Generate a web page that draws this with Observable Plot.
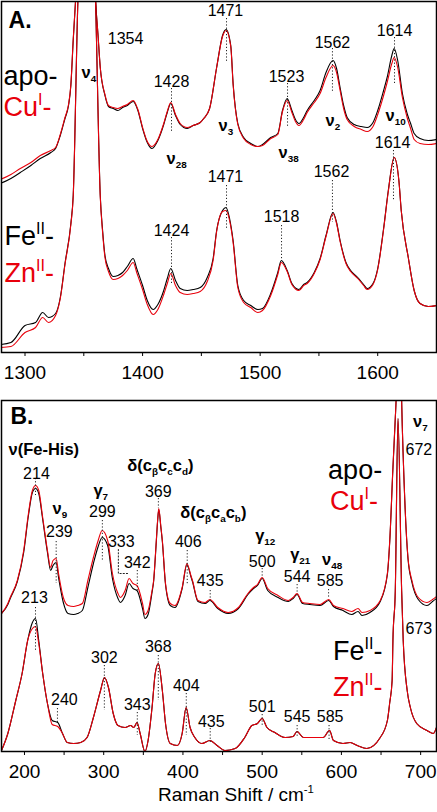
<!DOCTYPE html>
<html><head><meta charset="utf-8">
<script src="https://cdn.jsdelivr.net/npm/d3@7"></script>
<script src="https://cdn.jsdelivr.net/npm/@observablehq/plot@0.6"></script>
<style>
html,body{margin:0;padding:0;background:#fff;}
#chart{width:437px;height:812px;overflow:hidden;font-family:"Liberation Sans",Arial,Helvetica,sans-serif;}
svg{display:block;}
</style></head><body><div id="chart"></div>
<script>
// ---------- Panel A: 1280–1650 cm-1 (arbitrary intensity units) ----------
const xAu = [1279,1288,1296,1305,1313,1322,1326,1330,1334,1337,1339,1341,1343,1347,1353,1358,1360,1362,1364,1368,1371,1375,1379,1383,1387,1392,1396,1400,1404,1408,1413,1418,1421,1424,1428,1432,1438,1443,1449,1452,1457,1463,1468,1471,1475,1477,1481,1486,1492,1498,1502,1509,1515,1519,1523,1527,1530,1533,1537,1540,1546,1551,1556,1562,1565,1568,1571,1574,1580,1586,1591,1596,1600,1605,1608,1612,1614,1617,1621,1625,1628,1631,1636,1643,1650];
const apoA = [169,174,180,187,194,200,204,217,234,247,267,312,352,412,462,412,352,319,285,257,246,244,242,245,247,251,242,224,210,204,212,228,240,249,237,228,224,227,230,234,244,285,317,323,307,269,229,215,209,206,208,215,219,242,254,242,233,229,235,242,252,262,280,292,284,265,247,235,228,226,225,230,242,262,275,297,304,292,259,239,229,219,214,212,213];
const cuA  = [173,178,184,190,197,202,205,218,235,248,268,313,352,412,462,412,352,319,285,258,247,245,244,246,248,252,243,225,211,206,213,229,241,250,238,229,225,227,230,234,244,285,316,322,306,268,228,214,208,206,207,214,218,241,252,240,231,227,233,240,250,259,275,287,280,262,244,233,226,223,221,226,238,257,270,289,295,285,255,235,224,213,209,208,209];
const xAl = [1279,1288,1300,1309,1315,1320,1326,1330,1334,1339,1341,1345,1349,1354,1358,1360,1364,1366,1368,1371,1375,1379,1383,1387,1392,1395,1400,1404,1409,1413,1418,1421,1424,1428,1432,1438,1443,1449,1455,1460,1463,1468,1471,1474,1477,1481,1486,1492,1498,1502,1509,1515,1518,1523,1527,1533,1537,1540,1546,1551,1556,1562,1565,1568,1573,1577,1583,1588,1591,1596,1600,1605,1609,1614,1618,1620,1626,1631,1636,1643,1650];
const feA = [8,10,27,30,40,35,39,55,89,129,157,352,432,452,432,352,157,122,97,84,76,77,80,86,94,84,67,52,43,48,62,74,84,72,64,62,63,65,75,94,122,142,145,134,112,67,52,47,43,44,59,80,92,82,69,63,68,70,80,94,117,140,130,112,90,82,75,68,64,69,84,124,162,195,172,142,95,62,49,46,47];
const znA = [5,6,20,25,35,30,37,54,88,128,156,352,432,452,432,352,156,120,95,81,73,74,77,82,90,80,63,48,38,43,58,69,79,67,60,58,59,61,71,92,121,141,142,132,110,65,50,45,40,42,57,78,90,81,68,62,67,69,79,93,116,139,129,111,89,81,74,67,63,68,83,123,161,195,172,142,95,62,49,46,47];
const ticksA = [1300,1350,1400,1450,1500,1550,1600];

// ---------- Panel B: 171–720 cm-1 ----------
const xBu = [171,179,182,191,199,205,210,214,218,223,229,233,236,240,243,249,255,262,267,273,280,287,293,298,305,311,318,321,327,332,337,342,349,352,356,361,363,366,368,369.5,372,374,378,384,390,399,405,410,412,419,428,434,444,457,470,482,489,494,500,507,520,533,539,544,551,560,573,584,590,602,613,621,626,636,649,658,661,665,668,669,672.6,676,680,684,689,697,708,715,720];
const apoB = [139,148,154,171,200,237,260,264,259,233,200,182,187,190,175,150,139,138,139,142,165,189,206,215,207,174,154,150,157,169,164,162,144,134,138,160,171,206,231,243,226,211,168,147,145,164,188,176,171,151,149,152,144,139,144,158,164,167,174,162,155,151,154,158,149,148,147,152,146,142,138,141,137,140,151,178,211,284,334,352,502,352,252,194,170,153,147,151,154];
const cuB  = [139,149,155,172,202,239,262,267,262,235,202,185,192,194,179,155,147,146,147,149,172,195,212,222,212,179,159,155,162,174,169,167,149,138,142,162,172,207,232,244,227,212,169,149,147,165,189,177,172,152,150,153,145,140,145,159,165,168,175,164,157,152,155,159,150,149,148,153,147,144,141,144,140,142,152,179,212,285,335,352,502,352,252,195,172,155,150,153,156];
const xBl = [171,179,189,197,204,210,214,218,223,229,235,242,248,254,262,271,279,287,296,301,306,312,318,327,334,338,342,346,352,356,361,365,369,374,378,384,393,399,404,409,415,424,434,443,453,466,478,487,494,500,506,516,529,539,544,552,561,577,585,590,602,611,620,632,649,658,661,664,665,668,671.4,676,678,683,687,695,708,716,720];
const feB = [2,19,52,79,112,130,134,112,79,49,32,30,19,10,9,10,15,35,62,75,65,39,27,25,27,25,30,19,1,12,45,79,89,62,29,9,7,19,45,25,15,9,12,7,2,4,15,27,29,34,25,20,15,16,21,15,15,15,22,12,9,10,7,4,15,32,50,72,112,162,334,162,112,62,45,29,22,19,25];
const znB = [2,19,52,79,112,124,126,109,79,49,28,26,19,10,9,10,15,35,62,75,65,39,27,25,27,25,30,19,1,12,45,79,89,62,29,9,7,19,45,25,15,9,12,7,2,4,15,27,29,34,25,20,15,16,21,15,15,15,22,12,9,10,7,4,15,32,50,72,112,162,334,162,112,62,45,29,22,19,25];
const ticksB = [200,250,300,350,400,450,500,550,600,650,700];

// peak labels (text) and mode assignments
const peaksAupper = ["1428","1471","1523","1562","1614"];
const peaksAlower = ["1424","1471","1518","1562","1614"];
const modesA = ["ν_{4}","ν_{28}","ν_{3}","ν_{38}","ν_{2}","ν_{10}"];
const peaksBupper = ["214","239","299","333","342","369","406","435","500","544","585","672"];
const peaksBlower = ["213","240","302","343","368","404","435","501","545","585","673"];
const modesB = ["ν(Fe-His)","ν_{9}","γ_{7}","δ(c_{β}c_{c}c_{d})","δ(c_{β}c_{a}c_{b})","γ_{12}","γ_{21}","ν_{48}","ν_{7}"];
const samples = ["apo-","Cu^{I}-","Fe^{II}-","Zn^{II}-"];

const RED = "#e8000b";
const FONT = '"Liberation Sans", Arial, Helvetica, sans-serif';
const zipXY = (xs, ys) => xs.map((x, i) => ({x, y: ys[i]}));

function rich(svg) {
  for (const t of svg.querySelectorAll("text")) {
    const s = t.textContent;
    if (!/[_^]\{/.test(s)) continue;
    const fs = parseFloat(getComputedStyle(t).fontSize);
    t.textContent = "";
    let shift = 0;
    for (const part of s.split(/([_^]\{[^}]*\})/)) {
      if (!part) continue;
      const ts = document.createElementNS("http://www.w3.org/2000/svg", "tspan");
      let target = 0, txt = part, small = false;
      if (part[0] === "_") { target = 0.26 * fs; txt = part.slice(2, -1); small = true; }
      else if (part[0] === "^") { target = -0.42 * fs; txt = part.slice(2, -1); small = true; }
      if (target - shift !== 0) ts.setAttribute("dy", target - shift);
      shift = target;
      if (small) ts.setAttribute("font-size", (0.6 * fs).toFixed(1));
      ts.textContent = txt;
      t.appendChild(ts);
    }
  }
}

// annotation tables (label, x, y in data units)
const numA = [
  {t:"1354", x:1385.5, y:314},
  {t:peaksAupper[0], x:1424.6, y:271}, {t:peaksAupper[1], x:1470.5, y:342},
  {t:peaksAupper[2], x:1522.4, y:276}, {t:peaksAupper[3], x:1561.5, y:310},
  {t:peaksAupper[4], x:1614.3, y:322},
  {t:peaksAlower[0], x:1424.6, y:122}, {t:peaksAlower[1], x:1470.5, y:176},
  {t:peaksAlower[2], x:1518.2, y:136}, {t:peaksAlower[3], x:1560.7, y:181},
  {t:peaksAlower[4], x:1612.6, y:210}
];
const modeA = [
  {t:modesA[0], x:1348, y:280}, {t:modesA[1], x:1420.3, y:194}, {t:modesA[2], x:1464.6, y:227},
  {t:modesA[3], x:1515.6, y:200}, {t:modesA[4], x:1555.6, y:232}, {t:modesA[5], x:1606.6, y:237}
];
const sampA = [
  {t:samples[0], x:1281.7, y:276, c:"black"}, {t:samples[1], x:1281.7, y:245, c:RED},
  {t:samples[2], x:1282.6, y:116, c:"black"}, {t:samples[3], x:1282.6, y:79, c:RED}
];
const dotsA = [
  {x:1424.6, y1:264, y2:220}, {x:1471.4, y1:334, y2:290}, {x:1523.3, y1:269, y2:225},
  {x:1561.5, y1:304, y2:260}, {x:1614.3, y1:315, y2:267},
  {x:1424.6, y1:115, y2:67}, {x:1471.4, y1:167, y2:124}, {x:1518.2, y1:127, y2:92},
  {x:1561.5, y1:172, y2:130}, {x:1613.4, y1:202, y2:152}
];

const numB = [
  {t:peaksBupper[0], x:215.1, y:279}, {t:peaksBupper[1], x:244.1, y:221}, {t:peaksBupper[2], x:298.3, y:241},
  {t:peaksBupper[3], x:322.2, y:211}, {t:peaksBupper[4], x:342.4, y:190}, {t:peaksBupper[5], x:368.9, y:261},
  {t:peaksBupper[6], x:406.7, y:211}, {t:peaksBupper[7], x:434.4, y:172}, {t:peaksBupper[8], x:500, y:191},
  {t:peaksBupper[9], x:544.1, y:176}, {t:peaksBupper[10], x:585.7, y:172}, {t:peaksBupper[11], x:697.8, y:303},
  {t:peaksBlower[0], x:212.6, y:155}, {t:peaksBlower[1], x:250.4, y:53}, {t:peaksBlower[2], x:300.8, y:95},
  {t:peaksBlower[3], x:342.4, y:48}, {t:peaksBlower[4], x:368.9, y:106}, {t:peaksBlower[5], x:404.2, y:67},
  {t:peaksBlower[6], x:435.7, y:31}, {t:peaksBlower[7], x:500, y:46}, {t:peaksBlower[8], x:544.1, y:36},
  {t:peaksBlower[9], x:585.7, y:36}, {t:peaksBlower[10], x:697.8, y:124}
];
const modeB = [
  {t:modesB[0], x:179.8, y:303}, {t:modesB[1], x:235.3, y:244}, {t:modesB[2], x:287, y:262},
  {t:modesB[3], x:329.8, y:287}, {t:modesB[4], x:396.6, y:240}, {t:modesB[5], x:491.1, y:217},
  {t:modesB[6], x:535.3, y:198}, {t:modesB[7], x:575.6, y:193}, {t:modesB[8], x:690.3, y:331}
];
const sampB = [
  {t:samples[0], x:583.2, y:282, c:"black"}, {t:samples[1], x:585.7, y:251, c:RED},
  {t:samples[2], x:589.5, y:101, c:"black"}, {t:samples[3], x:589.5, y:65, c:RED}
];
const dotsB = [
  {x:213.9, y1:274, y2:257}, {x:240, y1:211, y2:169}, {x:298.3, y1:232, y2:192},
  {x:342.4, y1:182, y2:162}, {x:369, y1:254, y2:244}, {x:405.4, y1:202, y2:167},
  {x:434.4, y1:162, y2:152}, {x:500, y1:184, y2:175}, {x:544.1, y1:168, y2:159},
  {x:583.8, y1:163, y2:154},
  {x:213.9, y1:145, y2:102}, {x:241.6, y1:44, y2:30}, {x:300.8, y1:87, y2:42},
  {x:342.4, y1:40, y2:17}, {x:368.9, y1:97, y2:52}, {x:404.2, y1:59, y2:17},
  {x:434.4, y1:24, y2:9}, {x:500, y1:38, y2:27}, {x:544.1, y1:27, y2:15}, {x:584.4, y1:27, y2:12}
];
const leader333 = [{x:318.5, y:203}, {x:318.5, y:179}, {x:332.3, y:179}];

function spectra(xu, bu, ru, xl, bl, rl) {
  return [
    Plot.line(zipXY(xu, bu), {x:"x", y:"y", stroke:"black", strokeWidth:1.1, curve:"monotone-x", clip:true}),
    Plot.line(zipXY(xu, ru), {x:"x", y:"y", stroke:RED, strokeWidth:1.1, curve:"monotone-x", clip:true}),
    Plot.line(zipXY(xl, bl), {x:"x", y:"y", stroke:"black", strokeWidth:1.1, curve:"monotone-x", clip:true}),
    Plot.line(zipXY(xl, rl), {x:"x", y:"y", stroke:RED, strokeWidth:1.1, curve:"monotone-x", clip:true})
  ];
}
function annots(nums, modes, samps, dots, letter) {
  return [
    Plot.ruleX(dots, {x:"x", y1:"y1", y2:"y2", stroke:"#222", strokeWidth:1, strokeDasharray:"1.2,2"}),
    Plot.text(nums, {x:"x", y:"y", text:"t", fontSize:16, fill:"black"}),
    Plot.text(modes, {x:"x", y:"y", text:"t", fontSize:16.5, fontWeight:"bold", textAnchor:"start", fill:"black"}),
    Plot.text(samps, {x:"x", y:"y", text:"t", fontSize:27, textAnchor:"start", fill:"c"}),
    Plot.text([letter.t], {x:letter.x, y:letter.y, fontSize:23, fontWeight:"bold", textAnchor:"start", fill:"black"})
  ];
}

const chart = document.getElementById("chart");

const svgA = Plot.plot({
  width: 437, height: 399,
  marginLeft: 1, marginRight: 1, marginTop: 1, marginBottom: 47,
  style: {fontFamily: FONT, fontSize: "19px", color: "black", background: "white", overflow: "visible"},
  x: {domain: [1280, 1650], ticks: ticksA, tickFormat: d => d % 100 ? "" : String(d), tickSize: 4, tickPadding: 9, label: null},
  y: {domain: [0, 351], axis: null},
  marks: [
    ...spectra(xAu, apoA, cuA, xAl, feA, znA),
    ...annots(numA, modeA, sampA, dotsA, {t:"A.", x:1286, y:332}),
    Plot.frame({stroke:"black", strokeWidth:1.5})
  ]
});
chart.appendChild(svgA);

const svgB = Plot.plot({
  width: 437, height: 413,
  marginLeft: 1, marginRight: 1, marginTop: 1, marginBottom: 61,
  style: {fontFamily: FONT, fontSize: "19px", color: "black", background: "white", overflow: "visible"},
  x: {domain: [171, 720], ticks: ticksB, tickFormat: d => d % 100 ? "" : String(d), tickSize: 4, tickPadding: 9, label: null},
  y: {domain: [1, 352], axis: null},
  marks: [
    ...spectra(xBu, apoB, cuB, xBl, feB, znB),
    Plot.line(leader333, {x:"x", y:"y", stroke:"#222", strokeWidth:1, strokeDasharray:"1.2,2"}),
    ...annots(numB, modeB, sampB, dotsB, {t:"B.", x:182.3, y:336}),
    Plot.text(["Raman Shift / cm^{-1}"], {frameAnchor:"bottom", dy:49, dx:17, fontSize:19, fill:"black"}),
    Plot.frame({stroke:"black", strokeWidth:1.5})
  ]
});
chart.appendChild(svgB);
rich(svgA); rich(svgB);
</script></body></html>
